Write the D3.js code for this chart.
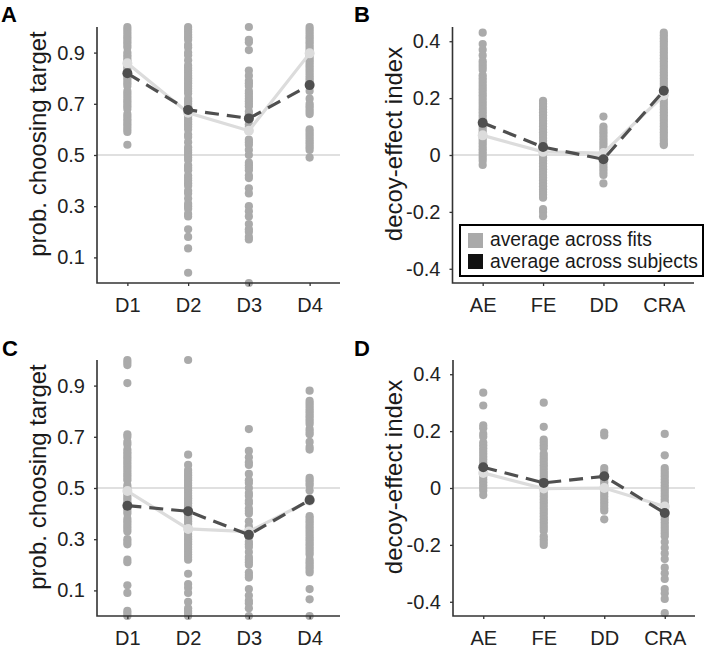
<!DOCTYPE html>
<html>
<head>
<meta charset="utf-8">
<script src="https://cdn.jsdelivr.net/npm/d3@7"></script>
<style>
  html, body { margin: 0; padding: 0; background: #ffffff; }
  svg { display: block; font-family: "Liberation Sans", Arial, Helvetica, sans-serif; }
</style>
</head>
<body>
<svg id="chart" width="706" height="649"></svg>
<script>
// ---------------- data ----------------
const catsProb = ["D1", "D2", "D3", "D4"];
const catsIdx = ["AE", "FE", "DD", "CRA"];
const yTicksProb = [0.1, 0.3, 0.5, 0.7, 0.9];
const yTicksIdx = [-0.4, -0.2, 0, 0.2, 0.4];
const legendLabels = ["average across fits", "average across subjects"];

// Panel A: individual fits (gray dots) per condition
const fitsA_D1 = [1.0, 0.99, 0.98, 0.97, 0.96, 0.95, 0.94, 0.93, 0.92, 0.90, 0.89, 0.88, 0.87, 0.86, 0.85, 0.84, 0.83, 0.82, 0.81, 0.80, 0.79, 0.78, 0.77, 0.75, 0.74, 0.73, 0.72, 0.71, 0.70, 0.69, 0.68, 0.66, 0.65, 0.64, 0.63, 0.62, 0.61, 0.60, 0.59, 0.54];
const fitsA_D2 = [1.0, 0.99, 0.98, 0.97, 0.96, 0.95, 0.93, 0.92, 0.90, 0.89, 0.87, 0.85, 0.84, 0.83, 0.82, 0.81, 0.80, 0.79, 0.78, 0.77, 0.76, 0.75, 0.74, 0.72, 0.71, 0.70, 0.69, 0.68, 0.67, 0.66, 0.65, 0.64, 0.63, 0.62, 0.61, 0.60, 0.58, 0.57, 0.55, 0.53, 0.52, 0.51, 0.50, 0.49, 0.48, 0.46, 0.45, 0.44, 0.42, 0.41, 0.40, 0.39, 0.38, 0.36, 0.35, 0.33, 0.31, 0.30, 0.29, 0.27, 0.26, 0.21, 0.18, 0.135, 0.04];
const fitsA_D3 = [1.0, 0.95, 0.94, 0.91, 0.83, 0.81, 0.79, 0.78, 0.77, 0.75, 0.74, 0.73, 0.72, 0.71, 0.70, 0.69, 0.67, 0.66, 0.65, 0.64, 0.62, 0.61, 0.60, 0.56, 0.55, 0.54, 0.52, 0.50, 0.47, 0.46, 0.45, 0.44, 0.42, 0.41, 0.37, 0.35, 0.30, 0.28, 0.26, 0.23, 0.21, 0.20, 0.18, 0.17, 0.0];
const fitsA_D4 = [1.0, 0.99, 0.98, 0.97, 0.96, 0.95, 0.94, 0.93, 0.92, 0.91, 0.90, 0.89, 0.88, 0.87, 0.86, 0.85, 0.84, 0.83, 0.82, 0.81, 0.80, 0.79, 0.78, 0.77, 0.75, 0.72, 0.70, 0.69, 0.68, 0.67, 0.66, 0.60, 0.59, 0.58, 0.57, 0.56, 0.55, 0.54, 0.53, 0.52, 0.49];
const meanFitsA = [0.858, 0.665, 0.595, 0.897];
const meanSubjA = [0.819, 0.676, 0.643, 0.773];

// Panel B
const fitsB_AE = [0.43, 0.39, 0.37, 0.35, 0.33, 0.32, 0.31, 0.30, 0.28, 0.27, 0.26, 0.25, 0.24, 0.23, 0.22, 0.21, 0.20, 0.19, 0.18, 0.17, 0.16, 0.15, 0.14, 0.13, 0.12, 0.11, 0.10, 0.09, 0.08, 0.07, 0.06, 0.05, 0.04, 0.03, 0.02, 0.01, 0.0, -0.01, -0.02, -0.035];
const fitsB_FE = [0.19, 0.18, 0.17, 0.16, 0.15, 0.14, 0.13, 0.12, 0.11, 0.10, 0.09, 0.08, 0.07, 0.06, 0.05, 0.04, 0.03, 0.02, 0.01, 0.0, -0.01, -0.02, -0.03, -0.04, -0.05, -0.06, -0.07, -0.08, -0.09, -0.10, -0.11, -0.12, -0.13, -0.14, -0.15, -0.19, -0.20, -0.215];
const fitsB_DD = [0.135, 0.10, 0.09, 0.08, 0.07, 0.06, 0.05, 0.04, 0.03, 0.02, 0.01, 0.0, -0.01, -0.02, -0.03, -0.04, -0.05, -0.06, -0.07, -0.10];
const fitsB_CRA = [0.43, 0.42, 0.41, 0.40, 0.39, 0.38, 0.37, 0.36, 0.35, 0.34, 0.33, 0.32, 0.31, 0.30, 0.29, 0.28, 0.27, 0.26, 0.25, 0.24, 0.23, 0.22, 0.21, 0.20, 0.19, 0.18, 0.17, 0.16, 0.15, 0.14, 0.13, 0.12, 0.11, 0.10, 0.09, 0.08, 0.07, 0.06, 0.05, 0.04, 0.035];
const meanFitsB = [0.069, 0.011, 0.007, 0.21];
const meanSubjB = [0.113, 0.028, -0.015, 0.226];

// Panel C
const fitsC_D1 = [1.0, 0.99, 0.98, 0.91, 0.71, 0.70, 0.68, 0.67, 0.65, 0.64, 0.63, 0.62, 0.61, 0.60, 0.59, 0.58, 0.57, 0.56, 0.55, 0.54, 0.53, 0.51, 0.50, 0.49, 0.48, 0.47, 0.46, 0.45, 0.44, 0.43, 0.42, 0.41, 0.40, 0.38, 0.37, 0.36, 0.35, 0.34, 0.33, 0.30, 0.29, 0.28, 0.22, 0.21, 0.12, 0.09, 0.02, 0.01, 0.0];
const fitsC_D2 = [1.0, 0.63, 0.59, 0.57, 0.56, 0.55, 0.54, 0.53, 0.52, 0.51, 0.50, 0.49, 0.48, 0.47, 0.46, 0.45, 0.44, 0.43, 0.42, 0.41, 0.40, 0.39, 0.38, 0.37, 0.36, 0.35, 0.34, 0.33, 0.32, 0.31, 0.30, 0.29, 0.28, 0.27, 0.26, 0.25, 0.24, 0.23, 0.22, 0.165, 0.125, 0.11, 0.09, 0.055, 0.03, 0.02, 0.01, 0.0];
const fitsC_D3 = [0.73, 0.645, 0.62, 0.60, 0.59, 0.555, 0.53, 0.52, 0.50, 0.48, 0.47, 0.45, 0.44, 0.42, 0.41, 0.40, 0.37, 0.35, 0.34, 0.32, 0.31, 0.29, 0.28, 0.27, 0.25, 0.23, 0.22, 0.21, 0.20, 0.17, 0.16, 0.15, 0.105, 0.08, 0.06, 0.05, 0.03, 0.0];
const fitsC_D4 = [0.88, 0.84, 0.83, 0.82, 0.81, 0.80, 0.79, 0.78, 0.77, 0.76, 0.75, 0.73, 0.72, 0.71, 0.68, 0.66, 0.65, 0.54, 0.53, 0.52, 0.51, 0.49, 0.46, 0.39, 0.38, 0.37, 0.36, 0.35, 0.34, 0.33, 0.32, 0.31, 0.30, 0.29, 0.28, 0.27, 0.26, 0.25, 0.24, 0.22, 0.21, 0.20, 0.19, 0.18, 0.17, 0.105, 0.065, 0.0];
const meanFitsC = [0.488, 0.34, 0.33, 0.45];
const meanSubjC = [0.431, 0.409, 0.317, 0.453];

// Panel D
const fitsD_AE = [0.335, 0.29, 0.22, 0.21, 0.19, 0.18, 0.16, 0.15, 0.14, 0.13, 0.12, 0.11, 0.10, 0.09, 0.08, 0.07, 0.06, 0.05, 0.04, 0.03, 0.02, 0.01, 0.0, -0.01, -0.025];
const fitsD_FE = [0.30, 0.215, 0.17, 0.16, 0.15, 0.14, 0.12, 0.11, 0.10, 0.09, 0.08, 0.07, 0.06, 0.05, 0.04, 0.03, 0.02, 0.01, 0.0, -0.01, -0.02, -0.03, -0.04, -0.05, -0.06, -0.07, -0.08, -0.09, -0.10, -0.11, -0.12, -0.13, -0.14, -0.15, -0.17, -0.18, -0.19, -0.20];
const fitsD_DD = [0.195, 0.185, 0.07, 0.06, 0.05, 0.04, 0.03, 0.02, 0.01, 0.0, -0.01, -0.02, -0.03, -0.04, -0.05, -0.06, -0.07, -0.08, -0.11];
const fitsD_CRA = [0.19, 0.115, 0.07, 0.06, 0.05, 0.04, 0.03, 0.02, 0.01, 0.0, -0.01, -0.02, -0.03, -0.04, -0.05, -0.06, -0.07, -0.08, -0.09, -0.10, -0.11, -0.12, -0.13, -0.14, -0.15, -0.16, -0.17, -0.19, -0.21, -0.23, -0.25, -0.28, -0.30, -0.32, -0.355, -0.37, -0.39, -0.44];
const meanFitsD = [0.053, -0.002, 0.0, -0.065];
const meanSubjD = [0.073, 0.018, 0.041, -0.088];

// ---------------- layout / style ----------------
const COL_DOT = "#aaaaaa";
const COL_LIGHT = "#dcdcdc";
const COL_DARK = "#4f4f4f";
const COL_AXIS = "#333333";
const COL_TEXT = "#222222";
const TICK_FS = 20;
const LABEL_FS = 24;

const panels = [
  { letter: "A", cats: catsProb, fits: [fitsA_D1, fitsA_D2, fitsA_D3, fitsA_D4], meanFits: meanFitsA, meanSubj: meanSubjA,
    yDomain: [0, 1], yTicks: yTicksProb, ref: 0.5, ylabel: "prob. choosing target",
    left: 97, right: 340, top: 27, bottom: 283, lx: 1, ly: 21.5, legend: false },
  { letter: "B", cats: catsIdx, fits: [fitsB_AE, fitsB_FE, fitsB_DD, fitsB_CRA], meanFits: meanFitsB, meanSubj: meanSubjB,
    yDomain: [-0.45, 0.45], yTicks: yTicksIdx, ref: 0, ylabel: "decoy-effect index",
    left: 452.5, right: 694, top: 27, bottom: 283, lx: 354, ly: 21.5, legend: true },
  { letter: "C", cats: catsProb, fits: [fitsC_D1, fitsC_D2, fitsC_D3, fitsC_D4], meanFits: meanFitsC, meanSubj: meanSubjC,
    yDomain: [0, 1], yTicks: yTicksProb, ref: 0.5, ylabel: "prob. choosing target",
    left: 97, right: 340, top: 360, bottom: 616, lx: 2, ly: 356, legend: false },
  { letter: "D", cats: catsIdx, fits: [fitsD_AE, fitsD_FE, fitsD_DD, fitsD_CRA], meanFits: meanFitsD, meanSubj: meanSubjD,
    yDomain: [-0.45, 0.45], yTicks: yTicksIdx, ref: 0, ylabel: "decoy-effect index",
    left: 453, right: 695, top: 360, bottom: 616, lx: 354, ly: 356, legend: false }
];

const svg = d3.select("#chart");

function fmt(v) {
  if (v === 0) return "0";
  return d3.format(".1f")(v).replace("−", "-");
}

panels.forEach(p => {
  const g = svg.append("g");
  const x = d3.scalePoint().domain(p.cats).range([p.left, p.right]).padding(0.5);
  const y = d3.scaleLinear().domain(p.yDomain).range([p.bottom, p.top]);

  // reference line
  g.append("line")
    .attr("x1", p.left).attr("x2", p.right)
    .attr("y1", y(p.ref)).attr("y2", y(p.ref))
    .attr("stroke", "#d6d6d6").attr("stroke-width", 1.5);

  // individual fit dots
  p.cats.forEach((c, i) => {
    g.append("g").selectAll("circle")
      .data(p.fits[i])
      .join("circle")
      .attr("cx", x(c))
      .attr("cy", d => y(d))
      .attr("r", 4.1)
      .attr("fill", COL_DOT);
  });

  const lineGen = d3.line().x((d, i) => x(p.cats[i])).y(d => y(d));

  // average across fits (light)
  g.append("path")
    .datum(p.meanFits)
    .attr("d", lineGen)
    .attr("fill", "none")
    .attr("stroke", COL_LIGHT)
    .attr("stroke-width", 3.2);
  g.append("g").selectAll("circle")
    .data(p.meanFits)
    .join("circle")
    .attr("cx", (d, i) => x(p.cats[i]))
    .attr("cy", d => y(d))
    .attr("r", 5)
    .attr("fill", COL_LIGHT);

  // average across subjects (dark, dashed)
  g.append("path")
    .datum(p.meanSubj)
    .attr("d", lineGen)
    .attr("fill", "none")
    .attr("stroke", COL_DARK)
    .attr("stroke-width", 3.2)
    .attr("stroke-dasharray", "14,8");
  g.append("g").selectAll("circle")
    .data(p.meanSubj)
    .join("circle")
    .attr("cx", (d, i) => x(p.cats[i]))
    .attr("cy", d => y(d))
    .attr("r", 5)
    .attr("fill", COL_DARK);

  // axes
  const yAxis = d3.axisLeft(y).tickValues(p.yTicks).tickSize(3).tickPadding(9).tickFormat(fmt);
  const ya = g.append("g").attr("transform", `translate(${p.left},0)`).call(yAxis);
  ya.select(".domain").remove();
  ya.selectAll(".tick line").attr("stroke", COL_AXIS).attr("stroke-width", 1.3);
  ya.selectAll(".tick text").attr("fill", COL_TEXT).style("font-size", TICK_FS + "px")
    .style("font-family", "'Liberation Sans', Arial, Helvetica, sans-serif");

  const xAxis = d3.axisBottom(x).tickSize(3).tickPadding(12);
  const xa = g.append("g").attr("transform", `translate(0,${p.bottom})`).call(xAxis);
  xa.select(".domain").remove();
  xa.selectAll(".tick line").attr("stroke", COL_AXIS).attr("stroke-width", 1.3);
  xa.selectAll(".tick text").attr("fill", COL_TEXT).style("font-size", TICK_FS + "px")
    .style("font-family", "'Liberation Sans', Arial, Helvetica, sans-serif");

  // axis lines
  g.append("path")
    .attr("d", `M${p.left},${p.top}V${p.bottom}H${p.right}`)
    .attr("fill", "none").attr("stroke", COL_AXIS).attr("stroke-width", 1.6);

  // y label
  const cy = (p.top + p.bottom) / 2 - 11;
  g.append("text")
    .attr("transform", `translate(${p.left - 51},${cy}) rotate(-90)`)
    .attr("text-anchor", "middle")
    .attr("fill", "#1a1a1a")
    .style("font-size", LABEL_FS + "px")
    .text(p.ylabel);

  // panel letter
  g.append("text")
    .attr("x", p.lx).attr("y", p.ly)
    .attr("fill", "#000")
    .style("font-size", "22px").style("font-weight", "bold")
    .text(p.letter);

  // legend
  if (p.legend) {
    const lg = svg.append("g");
    lg.append("rect")
      .attr("x", 460).attr("y", 225).attr("width", 243).attr("height", 51)
      .attr("fill", "#fff").attr("stroke", "#000").attr("stroke-width", 2);
    const legendColors = [COL_DOT, "#111111"];
    legendLabels.forEach((lab, i) => {
      lg.append("rect")
        .attr("x", 468).attr("y", 233 + i * 21).attr("width", 15).attr("height", 15)
        .attr("fill", legendColors[i]);
      lg.append("text")
        .attr("x", 490).attr("y", 246 + i * 22)
        .attr("fill", "#1a1a1a")
        .style("font-size", "19.3px")
        .text(lab);
    });
  }
});
</script>
</body>
</html>
